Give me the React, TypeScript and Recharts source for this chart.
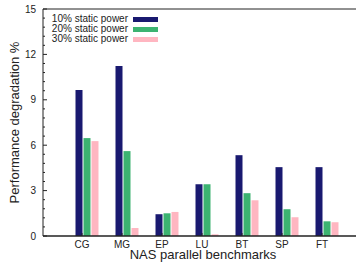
import React from 'react';
import { BarChart, Bar, XAxis, YAxis, Legend } from 'recharts';

const benchmarks = ['CG', 'MG', 'EP', 'LU', 'BT', 'SP', 'FT'];
const static10 = [9.65, 11.24, 1.44, 3.42, 5.34, 4.55, 4.55];
const static20 = [6.47, 5.61, 1.5, 3.42, 2.83, 1.77, 0.97];
const static30 = [6.27, 0.53, 1.59, 0.11, 2.36, 1.24, 0.91];

const seriesNames = ['10% static power', '20% static power', '30% static power'];
const seriesColors = ['#191970', '#3cb371', '#ffb6c1'];

const yTicks = [0, 0.6, 1.2, 1.8, 2.4, 3, 3.6, 4.2, 4.8, 5.4, 6, 6.6, 7.2, 7.8, 8.4, 9, 9.6, 10.2, 10.8, 11.4, 12, 12.6, 13.2, 13.8, 14.4, 15];
const yMajor = [0, 3, 6, 9, 12, 15];

const data = benchmarks.map((name, i) => ({
  name,
  s10: static10[i],
  s20: static20[i],
  s30: static30[i],
}));

const font = 'Liberation Sans, Arial, Helvetica, sans-serif';
const ink = '#222';

// gnuplot style: inward ticks, long for labelled values, short for minor ones
const YTick = (props: any) => {
  const { x, y, payload } = props;
  const major = yMajor.includes(payload.value);
  return (
    <g>
      <line x1={x} x2={x + (major ? 4 : 2)} y1={y} y2={y} stroke={ink} />
      {major && (
        <text x={x - 7} y={y} dy={3.6} textAnchor="end" fontSize={10} fontFamily={font} fill={ink}>
          {payload.value}
        </text>
      )}
    </g>
  );
};

const LegendBox = (props: any) => {
  const { payload } = props;
  return (
    <div style={{ fontFamily: font, fontSize: 10, color: ink }}>
      {(payload || []).map((p: any) => (
        <div key={p.value} style={{ display: 'flex', alignItems: 'center', height: 10, lineHeight: '10px' }}>
          <span style={{ width: 85, textAlign: 'right', whiteSpace: 'nowrap' }}>{p.value}</span>
          <span style={{ marginLeft: 5, width: 25, height: 5, background: p.color, display: 'inline-block' }} />
        </div>
      ))}
    </div>
  );
};

export default function App() {
  return (
    <div style={{ position: 'absolute', left: 0, top: 0, width: 356, height: 263, overflow: 'hidden', background: '#fff' }}>
      <BarChart width={370} height={263} data={data} margin={{ top: 8, right: 7, left: 0, bottom: 0 }} barSize={7} barGap={1}>
        <XAxis
          xAxisId="bottom"
          dataKey="name"
          height={27}
          padding={{ left: 19, right: 21 }}
          tickSize={-3}
          tickMargin={8}
          stroke={ink}
          axisLine={{ stroke: ink, strokeWidth: 1.5 }}
          tickLine={{ stroke: ink }}
          tick={{ fontSize: 10, fontFamily: font, fill: ink }}
          interval={0}
          label={{ value: 'NAS parallel benchmarks', position: 'insideBottom', offset: 4, fontSize: 13, fontFamily: font, fill: ink }}
        />
        <XAxis
          xAxisId="top"
          orientation="top"
          dataKey="name"
          height={1}
          padding={{ left: 19, right: 21 }}
          tick={false}
          tickSize={-4}
          stroke={ink}
          axisLine={{ stroke: ink }}
          tickLine={{ stroke: ink }}
        />
        <YAxis
          width={43}
          domain={[0, 15]}
          ticks={yTicks}
          interval={0}
          tickSize={0}
          tickMargin={0}
          tickLine={false}
          tick={<YTick />}
          stroke={ink}
          axisLine={{ stroke: ink }}
          label={{
            value: 'Performance degradation %',
            angle: -90,
            position: 'insideLeft',
            offset: 14,
            fontSize: 13,
            fontFamily: font,
            fill: ink,
            style: { textAnchor: 'middle' },
          }}
        />
        <XAxis
          xAxisId="bars"
          dataKey="name"
          hide
          height={0}
          padding={{ left: 23.5, right: 16.5 }}
        />
        <Legend
          layout="vertical"
          align="center"
          verticalAlign="middle"
          content={<LegendBox />}
          wrapperStyle={{ top: 14, left: 43, width: 'auto' }}
        />
        <Bar xAxisId="bars" dataKey="s10" name={seriesNames[0]} fill={seriesColors[0]} isAnimationActive={false} />
        <Bar xAxisId="bars" dataKey="s20" name={seriesNames[1]} fill={seriesColors[1]} isAnimationActive={false} />
        <Bar xAxisId="bars" dataKey="s30" name={seriesNames[2]} fill={seriesColors[2]} isAnimationActive={false} />
      </BarChart>
    </div>
  );
}
